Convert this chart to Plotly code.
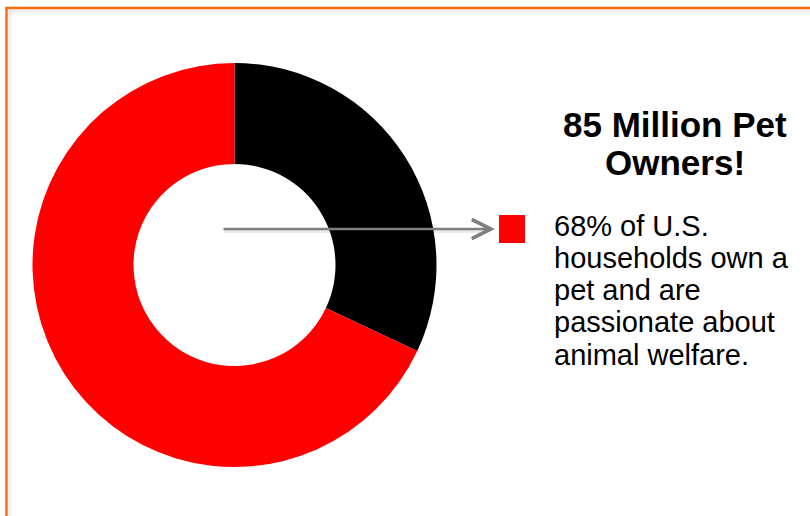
import plotly.graph_objects as go

# Data
labels = ["Households without pets", "Households with pets"]
values = [32, 68]
colors = ["#000000", "#FF0000"]
title_lines = ["85 Million Pet", "Owners!"]
legend_lines = ["68% of U.S.", "households own a", "pet and are",
                "passionate about", "animal welfare."]

W, H = 810, 516


def px(x):
    return x / W


def py(y):
    return 1 - y / H


cx, cy, R = 234.5, 265.0, 202.0

fig = go.Figure(go.Pie(
    labels=labels, values=values, hole=0.5, sort=False,
    direction="clockwise", rotation=0,
    marker=dict(colors=colors, line=dict(width=0)),
    textinfo="none", hoverinfo="label+percent", showlegend=False,
    domain=dict(x=[px(cx - R), px(cx + R)], y=[py(cy + R), py(cy - R)]),
))

shapes = []
# soft shadow under the frame
for i, a in enumerate([0.06, 0.045, 0.03, 0.018, 0.008]):
    yy = 10.5 + i * 1.2
    shapes.append(dict(type="line", xref="paper", yref="paper",
                       x0=px(9), x1=1.0, y0=py(yy), y1=py(yy),
                       line=dict(color=f"rgba(0,0,0,{a})", width=1.5)))
    xx = 9 + i * 1.2
    shapes.append(dict(type="line", xref="paper", yref="paper",
                       x0=px(xx), x1=px(xx), y0=py(10), y1=0.0,
                       line=dict(color=f"rgba(0,0,0,{a})", width=1.5)))
# orange frame
shapes.append(dict(type="line", xref="paper", yref="paper",
                   x0=px(5.5), x1=1.0, y0=py(8), y1=py(8),
                   line=dict(color="#FF6A10", width=2.5)))
shapes.append(dict(type="line", xref="paper", yref="paper",
                   x0=px(6.5), x1=px(6.5), y0=py(7), y1=0.0,
                   line=dict(color="#FF6A10", width=2.5)))
# arrow shadow
shapes.append(dict(type="line", xref="paper", yref="paper",
                   x0=px(224), x1=px(488), y0=py(231.5), y1=py(231.5),
                   line=dict(color="rgba(0,0,0,0.08)", width=3)))
# legend swatch
shapes.append(dict(type="rect", xref="paper", yref="paper",
                   x0=px(499), x1=px(525), y0=py(243), y1=py(215),
                   fillcolor=colors[1], line=dict(width=0)))

annotations = []
# arrow
annotations.append(dict(xref="paper", yref="paper", x=px(495), y=py(229),
                        ax=-(495 - 222), ay=0, text="", showarrow=True,
                        arrowhead=5, arrowsize=1.5, arrowwidth=2.5,
                        arrowcolor="#7F7F7F", standoff=0))
font_fam = "Arial, Liberation Sans, Helvetica, sans-serif"
title_mid = [124.9, 162.9]
for t, ym in zip(title_lines, title_mid):
    annotations.append(dict(xref="paper", yref="paper", x=px(675), y=py(ym),
                            xanchor="center", yanchor="middle", text=f"<b>{t}</b>",
                            showarrow=False,
                            font=dict(family=font_fam, size=35, color="#000000")))
body_mid = [225.5, 257.8, 290.1, 322.4, 354.7]
for t, ym in zip(legend_lines, body_mid):
    annotations.append(dict(xref="paper", yref="paper", x=px(552), y=py(ym),
                            xanchor="left", yanchor="middle", text=t,
                            showarrow=False,
                            font=dict(family=font_fam, size=29, color="#000000")))

fig.update_layout(width=W, height=H, margin=dict(l=0, r=0, t=0, b=0),
                  paper_bgcolor="white", plot_bgcolor="white",
                  shapes=shapes, annotations=annotations)

fig.write_html("out.html")
